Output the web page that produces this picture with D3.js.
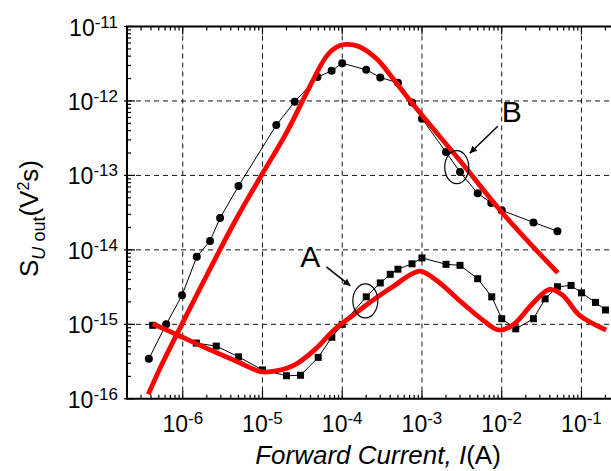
<!DOCTYPE html>
<meta charset="utf-8">
<style>
body { margin: 0; background: #fff; }
svg { display: block; font-family: "Liberation Sans", Arial, sans-serif; }
.grid line { stroke: #111; stroke-width: 1; stroke-dasharray: 5,4; }
.tick-line { stroke: #000; stroke-width: 1.2; }
.frame { stroke: #000; stroke-width: 2; fill: none; }
</style>
<svg width="611" height="471"></svg>
<script src="https://cdn.jsdelivr.net/npm/d3@7"></script>
<script>

// tick exponents (labels are 10^exp)
var xTickExps = [-6, -5, -4, -3, -2, -1];
var yTickExps = [-16, -15, -14, -13, -12, -11];

// measured noise, curve A (squares): [I (A), S (V^2 s)]
var measA = [
  [4.2e-7, 9.7e-16], [1.48e-6, 5.6e-16], [2.63e-6, 5.1e-16], [5.0e-6, 3.66e-16],
  [1.0e-5, 2.44e-16], [2.0e-5, 2.04e-16], [3.0e-5, 2.07e-16], [5.0e-5, 3.6e-16],
  [7.4e-5, 6.7e-16], [1.0e-4, 1.0e-15], [2.0e-4, 2.34e-15], [3.0e-4, 3.6e-15],
  [4.0e-4, 4.7e-15], [5.0e-4, 5.5e-15], [7.5e-4, 6.5e-15], [1.0e-3, 7.8e-15],
  [2.0e-3, 6.4e-15], [3.0e-3, 6.2e-15], [5.0e-3, 4.1e-15], [7.5e-3, 2.34e-15],
  [1.0e-2, 1.19e-15], [1.5e-2, 8.7e-16], [2.5e-2, 1.19e-15], [3.5e-2, 2.2e-15],
  [5.0e-2, 3.2e-15], [7.4e-2, 3.33e-15], [0.1, 2.65e-15], [0.15, 1.97e-15],
  [0.2, 1.56e-15]
];

// measured noise, curve B (circles)
var measB = [
  [3.76e-7, 3.44e-16], [6.2e-7, 1.0e-15], [9.8e-7, 2.46e-15], [1.5e-6, 8.1e-15],
  [2.2e-6, 1.32e-14], [2.94e-6, 2.68e-14], [5.0e-6, 7.2e-14], [1.49e-5, 4.74e-13],
  [2.53e-5, 9.75e-13], [4.9e-5, 2.09e-12], [7.36e-5, 2.54e-12], [1.0e-4, 3.22e-12],
  [2.0e-4, 2.62e-12], [3.0e-4, 2.07e-12], [5.0e-4, 1.75e-12], [7.5e-4, 9.5e-13],
  [1.0e-3, 5.77e-13], [2.0e-3, 2.06e-13], [3.0e-3, 1.11e-13], [5.0e-3, 5.74e-14],
  [7.4e-3, 4.27e-14], [1.0e-2, 3.4e-14], [2.5e-2, 2.34e-14], [5.0e-2, 1.78e-14]
];

// model curves (red)
var modelA = [
  [4.2e-7, 1.02e-15], [8.6e-7, 7.2e-16], [2.24e-6, 4.5e-16], [4.85e-6, 3.15e-16],
  [9.5e-6, 2.31e-16], [1.27e-5, 2.31e-16], [2.5e-5, 2.84e-16], [4.46e-5, 4.5e-16],
  [7.9e-5, 8.4e-16], [1.56e-4, 1.48e-15], [2.0e-4, 1.82e-15], [4.3e-4, 3.2e-15],
  [9.3e-4, 5.2e-15], [1.5e-3, 3.94e-15], [3.25e-3, 1.91e-15], [5.8e-3, 1.14e-15],
  [9.2e-3, 8.4e-16], [1.38e-2, 9.8e-16], [2.45e-2, 1.91e-15], [3.97e-2, 2.95e-15],
  [5.8e-2, 2.47e-15], [9.4e-2, 1.33e-15], [0.204, 8.4e-16]
];

var modelB = [
  [3.7e-7, 1.15e-16], [5.3e-7, 2.7e-16], [1.39e-6, 2.12e-15], [4.6e-6, 2.5e-14],
  [1.0e-5, 1.06e-13], [1.98e-5, 3.66e-13], [3.9e-5, 1.55e-12], [6.3e-5, 3.94e-12],
  [8.4e-5, 5.26e-12], [1.1e-4, 5.74e-12], [1.64e-4, 5.36e-12], [2.66e-4, 3.74e-12],
  [4.3e-4, 2.02e-12], [7.0e-4, 1.03e-12], [1.13e-3, 5.5e-13], [2.95e-3, 1.61e-13],
  [1.03e-2, 3.1e-14], [5.05e-2, 4.9e-15]
];

var svg = d3.select("svg");

var x = d3.scaleLog()
    .domain([2e-7, 1])
    .range([127, 661.2]);

var y = d3.scaleLog()
    .domain([1e-16, 1e-11])
    .range([398.8, 26.5]);

var x0 = x.range()[0], x1 = x.range()[1],
    yTop = y.range()[1], yBot = y.range()[0];

// grid
var grid = svg.append("g").attr("class", "grid");
grid.selectAll(".gx")
  .data(xTickExps)
  .enter().append("line")
    .attr("x1", function(d) { return x(Math.pow(10, d)); })
    .attr("x2", function(d) { return x(Math.pow(10, d)); })
    .attr("y1", yTop)
    .attr("y2", yBot);
grid.selectAll(".gy")
  .data(yTickExps.filter(function(d) { return d > -16 && d < -11; }))
  .enter().append("line")
    .attr("x1", x0)
    .attr("x2", x1)
    .attr("y1", function(d) { return y(Math.pow(10, d)); })
    .attr("y2", function(d) { return y(Math.pow(10, d)); });

// minor + major ticks, pointing inwards
var xMinor = [], yMinor = [];
for (var e = -7; e <= 0; e++) {
  for (var m = 1; m < 10; m++) {
    var v = m * Math.pow(10, e);
    if (v >= x.domain()[0] && v <= x.domain()[1]) xMinor.push({v: v, major: m === 1});
  }
}
for (var e = -16; e <= -11; e++) {
  for (var m = 1; m < 10; m++) {
    var v = m * Math.pow(10, e);
    if (v > 1e-16 * 0.99 && v < 1e-11 * 1.01) yMinor.push({v: v, major: m === 1});
  }
}

var ticks = svg.append("g");
ticks.selectAll(".tb")
  .data(xMinor)
  .enter().append("line")
    .attr("class", "tick-line")
    .attr("x1", function(d) { return x(d.v); })
    .attr("x2", function(d) { return x(d.v); })
    .attr("y1", yBot)
    .attr("y2", function(d) { return yBot - (d.major ? 8 : 4); });
ticks.selectAll(".tt")
  .data(xMinor)
  .enter().append("line")
    .attr("class", "tick-line")
    .attr("x1", function(d) { return x(d.v); })
    .attr("x2", function(d) { return x(d.v); })
    .attr("y1", yTop)
    .attr("y2", function(d) { return yTop + (d.major ? 8 : 4); });
ticks.selectAll(".tl")
  .data(yMinor)
  .enter().append("line")
    .attr("class", "tick-line")
    .attr("y1", function(d) { return y(d.v); })
    .attr("y2", function(d) { return y(d.v); })
    .attr("x1", function(d) { return x0 - (d.major ? 3 : 0); })
    .attr("x2", function(d) { return x0 + (d.major ? 8 : 4); });

// frame (left, top, bottom)
svg.append("path")
    .attr("class", "frame")
    .attr("d", "M" + x1 + "," + yTop + "H" + x0 + "V" + yBot + "H" + x1);

// tick labels
var xl = svg.append("g").selectAll("text")
  .data(xTickExps)
  .enter().append("text")
    .attr("x", function(d) { return x(Math.pow(10, d)); })
    .attr("y", 431.5)
    .attr("text-anchor", "middle")
    .style("font-size", "23px");
xl.append("tspan").text("10");
xl.append("tspan").attr("dy", -8).style("font-size", "17px").text(function(d) { return String(d); });

var yl = svg.append("g").selectAll("text")
  .data(yTickExps)
  .enter().append("text")
    .attr("x", 118)
    .attr("y", function(d) { return y(Math.pow(10, d)) + 9; })
    .attr("text-anchor", "end")
    .style("font-size", "23px");
yl.append("tspan").text("10");
yl.append("tspan").attr("dy", -8).style("font-size", "17px").text(function(d) { return String(d); });

// axis titles
var xt = svg.append("text")
    .attr("x", 378)
    .attr("y", 464)
    .attr("text-anchor", "middle")
    .style("font-size", "26px");
xt.append("tspan").style("font-style", "italic").text("Forward Current, I");
xt.append("tspan").text("(A)");

var yt = svg.append("text")
    .attr("transform", "translate(38,218.5) rotate(-90)")
    .attr("text-anchor", "middle")
    .style("font-size", "26px");
yt.append("tspan").text("S");
yt.append("tspan").attr("dy", 7).style("font-size", "18px").style("font-style", "italic").text("U");
yt.append("tspan").style("font-size", "18px").text(" out");
yt.append("tspan").attr("dy", -7).text("(V");
yt.append("tspan").attr("dy", -9).style("font-size", "16px").text("2");
yt.append("tspan").attr("dy", 9).text("s)");

// lines
var thin = d3.line()
    .x(function(d) { return x(d[0]); })
    .y(function(d) { return y(d[1]); });

var smooth = d3.line()
    .x(function(d) { return x(d[0]); })
    .y(function(d) { return y(d[1]); })
    .curve(d3.curveCatmullRom.alpha(0.5));

[measA, measB].forEach(function(s) {
  svg.append("path")
      .attr("d", thin(s))
      .attr("fill", "none")
      .attr("stroke", "#000")
      .attr("stroke-width", 1);
});

svg.append("g").selectAll("rect")
  .data(measA)
  .enter().append("rect")
    .attr("x", function(d) { return x(d[0]) - 3.5; })
    .attr("y", function(d) { return y(d[1]) - 3.5; })
    .attr("width", 7)
    .attr("height", 7)
    .attr("fill", "#000");

svg.append("g").selectAll("circle")
  .data(measB)
  .enter().append("circle")
    .attr("cx", function(d) { return x(d[0]); })
    .attr("cy", function(d) { return y(d[1]); })
    .attr("r", 4)
    .attr("fill", "#000");

[modelA, modelB].forEach(function(s) {
  svg.append("path")
      .attr("d", smooth(s))
      .attr("fill", "none")
      .attr("stroke", "#ff0000")
      .attr("stroke-width", 4.8)
      .attr("stroke-linejoin", "round")
      .attr("stroke-linecap", "butt");
});

// annotations
svg.append("defs").append("marker")
    .attr("id", "head")
    .attr("viewBox", "0 0 10 10")
    .attr("refX", 10)
    .attr("refY", 5)
    .attr("markerWidth", 10)
    .attr("markerHeight", 7)
    .attr("markerUnits", "userSpaceOnUse")
    .attr("orient", "auto")
  .append("path")
    .attr("d", "M0,0L10,5L0,10z")
    .attr("fill", "#000");

var notes = [
  {label: "A", cx: 1.95e-4, cy: 2.07e-15, rx: 12.5, ry: 17, tail: [-39, -34], tip: [-15, -15], text: [-55, -34]},
  {label: "B", cx: 2.73e-3, cy: 1.29e-13, rx: 12, ry: 16.5, tail: [41, -41], tip: [13, -14], text: [55, -45]}
];

notes.forEach(function(n) {
  var cx = x(n.cx), cy = y(n.cy);
  svg.append("ellipse")
      .attr("cx", cx)
      .attr("cy", cy)
      .attr("rx", n.rx)
      .attr("ry", n.ry)
      .attr("fill", "none")
      .attr("stroke", "#000")
      .attr("stroke-width", 1.2);
  svg.append("line")
      .attr("x1", cx + n.tail[0])
      .attr("y1", cy + n.tail[1])
      .attr("x2", cx + n.tip[0])
      .attr("y2", cy + n.tip[1])
      .attr("stroke", "#000")
      .attr("stroke-width", 1.5)
      .attr("marker-end", "url(#head)");
  svg.append("text")
      .attr("x", cx + n.text[0])
      .attr("y", cy + n.text[1])
      .attr("text-anchor", "middle")
      .style("font-size", "30px")
      .text(n.label);
});

</script>
